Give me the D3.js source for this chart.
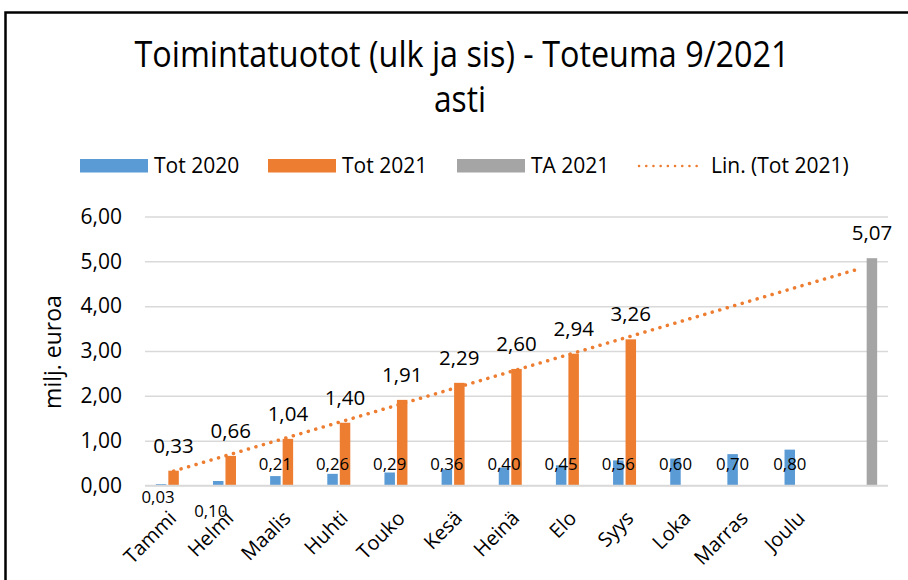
<!DOCTYPE html>
<html>
<head>
<meta charset="utf-8">
<script src="https://cdn.jsdelivr.net/npm/d3@7"></script>
<style>
  body { margin: 0; background: #fff; }
  text { font-family: "Open Sans", "Noto Sans", sans-serif; fill: #000; }
</style>
</head>
<body>
<div id="chart"></div>
<script>
// data
const categories = ["Tammi", "Helmi", "Maalis", "Huhti", "Touko", "Kesä", "Heinä", "Elo", "Syys", "Loka", "Marras", "Joulu", ""];
const tot2020 = [0.03, 0.10, 0.21, 0.26, 0.29, 0.36, 0.40, 0.45, 0.56, 0.60, 0.70, 0.80, null];
const tot2021 = [0.33, 0.66, 1.04, 1.40, 1.91, 2.29, 2.60, 2.94, 3.26, null, null, null, null];
const ta2021 = [null, null, null, null, null, null, null, null, null, null, null, null, 5.07];
const seriesNames = ["Tot 2020", "Tot 2021", "TA 2021"];
const yTicks = [0, 1, 2, 3, 4, 5, 6];

const COLORS = { "Tot 2020": "#5B9BD5", "Tot 2021": "#ED7D31", "TA 2021": "#A5A5A5" };
const WIDTH = 908, HEIGHT = 580;
const PLOT = { LEFT: 145, RIGHT: 888, TOP: 216.5, BOTTOM: 485.5 };

const fi = d3.formatLocale({ decimal: ",", thousands: " ", grouping: [3], currency: ["", "€"] });
const fmt = fi.format(".2f");

const svg = d3.select("#chart")
  .append("svg")
    .attr("width", WIDTH)
    .attr("height", HEIGHT);

// frame
svg.append("path")
  .attr("d", `M5.5,${HEIGHT} V12.5 H${WIDTH}`)
  .attr("fill", "none")
  .attr("stroke", "#000")
  .attr("stroke-width", 2.5);

// title
svg.append("text")
  .attr("x", 462).attr("y", 66.5)
  .attr("text-anchor", "middle")
  .attr("font-size", 36)
  .attr("textLength", 655)
  .attr("lengthAdjust", "spacingAndGlyphs")
  .text("Toimintatuotot (ulk ja sis) - Toteuma 9/2021");
svg.append("text")
  .attr("x", 460).attr("y", 112)
  .attr("text-anchor", "middle")
  .attr("font-size", 36)
  .attr("textLength", 52)
  .attr("lengthAdjust", "spacingAndGlyphs")
  .text("asti");

// scales
const x0 = d3.scaleBand()
  .domain(d3.range(categories.length))
  .range([PLOT.LEFT, PLOT.RIGHT])
  .paddingInner(0.344)
  .paddingOuter(0.172);

const x1 = d3.scaleBand()
  .domain(seriesNames)
  .range([0, x0.bandwidth()])
  .paddingInner(0.16)
  .paddingOuter(0.08);

const y = d3.scaleLinear()
  .domain([0, 6])
  .range([PLOT.BOTTOM, PLOT.TOP]);

// y axis with gridlines
const yAxis = svg.append("g")
  .attr("transform", `translate(${PLOT.LEFT},0)`)
  .call(d3.axisLeft(y)
    .tickValues(yTicks)
    .tickSize(-(PLOT.RIGHT - PLOT.LEFT))
    .tickPadding(23)
    .tickFormat(fmt));
yAxis.select(".domain").remove();
yAxis.selectAll(".tick line").attr("stroke", "#D9D9D9").attr("stroke-width", 1.5);
yAxis.selectAll(".tick text")
  .attr("font-size", 21)
  .attr("font-family", "'Open Sans', 'Noto Sans', sans-serif")
  .attr("fill", "#000");

// y axis title
svg.append("text")
  .attr("transform", "translate(61,352) rotate(-90)")
  .attr("text-anchor", "middle")
  .attr("font-size", 23)
  .text("milj. euroa");

// bars
const barData = [];
categories.forEach((c, i) => {
  [tot2020, tot2021, ta2021].forEach((arr, s) => {
    if (arr[i] != null) barData.push({ i: i, s: seriesNames[s], v: arr[i] });
  });
});

svg.append("g").selectAll("rect")
  .data(barData)
  .enter()
  .append("rect")
    .attr("x", d => x0(d.i) + x1(d.s))
    .attr("y", d => y(d.v))
    .attr("width", x1.bandwidth())
    .attr("height", d => y(0) - y(d.v))
    .attr("fill", d => COLORS[d.s]);

// x axis line
svg.append("line")
  .attr("x1", PLOT.LEFT).attr("x2", PLOT.RIGHT)
  .attr("y1", y(0)).attr("y2", y(0))
  .attr("stroke", "#D9D9D9").attr("stroke-width", 1.5);

// linear trendline for Tot 2021 (least squares, forecast to last category)
const pts = tot2021.map((v, i) => [i + 1, v]).filter(p => p[1] != null);
const mx = d3.mean(pts, p => p[0]), my = d3.mean(pts, p => p[1]);
const slope = d3.sum(pts, p => (p[0] - mx) * (p[1] - my)) / d3.sum(pts, p => (p[0] - mx) ** 2);
const icpt = my - slope * mx;
const trend = [0, categories.length - 1].map(i => [i, icpt + slope * (i + 1)]);
const cx = i => x0(i) + x0.bandwidth() / 2;

svg.append("path")
  .datum(trend)
  .attr("d", d3.line().x(d => cx(d[0])).y(d => y(d[1])))
  .attr("fill", "none")
  .attr("stroke", COLORS["Tot 2021"])
  .attr("stroke-width", 3.5)
  .attr("stroke-linecap", "round")
  .attr("stroke-dasharray", "0.1 7.7");

// data labels
svg.append("g").selectAll("text")
  .data(barData.filter(d => d.s !== "Tot 2020"))
  .enter()
  .append("text")
    .attr("x", d => x0(d.i) + x1(d.s) + x1.bandwidth() / 2)
    .attr("y", d => y(d.v) - 18)
    .attr("text-anchor", "middle")
    .attr("font-size", 20.5)
    .text(d => fmt(d.v));

// Tot 2020 labels sit on a common line; first two were pushed below the axis
const lowLabel = { 0: [-3, 17], 1: [-7.5, 31] };
svg.append("g").selectAll("text")
  .data(barData.filter(d => d.s === "Tot 2020"))
  .enter()
  .append("text")
    .attr("x", d => x0(d.i) + x1(d.s) + x1.bandwidth() / 2 + (lowLabel[d.i] ? lowLabel[d.i][0] : 0))
    .attr("y", d => lowLabel[d.i] ? y(0) + lowLabel[d.i][1] : y(0) - 16)
    .attr("text-anchor", "middle")
    .attr("font-size", 16.8)
    .text(d => fmt(d.v));

// category labels
svg.append("g").selectAll("text")
  .data(categories)
  .enter()
  .append("text")
    .attr("transform", (d, i) => `translate(${cx(i) + 4},${y(0) + 34}) rotate(-45)`)
    .attr("text-anchor", "end")
    .attr("font-size", 20)
    .text(d => d);

// legend
const legendItems = [
  { name: "Tot 2020", x: 80, type: "rect" },
  { name: "Tot 2021", x: 268, type: "rect" },
  { name: "TA 2021", x: 457, type: "rect" },
  { name: "Lin. (Tot 2021)", x: 637, type: "line" }
];
const lg = svg.append("g").selectAll("g")
  .data(legendItems)
  .enter()
  .append("g")
    .attr("transform", d => `translate(${d.x},0)`);

lg.filter(d => d.type === "rect").append("rect")
  .attr("y", 159).attr("width", 68).attr("height", 13.5)
  .attr("fill", d => COLORS[d.name]);

lg.filter(d => d.type === "line").append("line")
  .attr("x1", 2).attr("x2", 66).attr("y1", 166).attr("y2", 166)
  .attr("stroke", COLORS["Tot 2021"])
  .attr("stroke-width", 2.5)
  .attr("stroke-linecap", "round")
  .attr("stroke-dasharray", "0.1 7.1");

lg.append("text")
  .attr("x", 74).attr("y", 173)
  .attr("font-size", 21)
  .text(d => d.name);
</script>
</body>
</html>
